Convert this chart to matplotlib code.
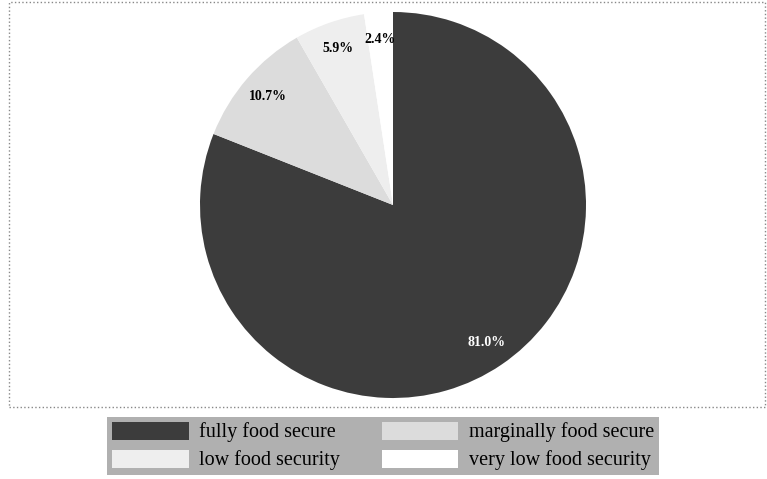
import matplotlib.pyplot as plt
from matplotlib.patches import Rectangle, Patch

categories = ['fully food secure', 'marginally food secure',
              'low food security', 'very low food security']
shares = [81.0, 10.7, 5.9, 2.4]
colors = ['#3c3c3c', '#dcdcdc', '#eeeeee', '#ffffff']
label_colors = ['white', 'black', 'black', 'black']

fig = plt.figure(figsize=(7.67, 4.79), dpi=100)

# dotted frame around the chart area
fig.patches.append(Rectangle((9 / 767, 1 - 407 / 479), 756 / 767, 405 / 479,
                             transform=fig.transFigure, fill=False,
                             edgecolor='#888888', linestyle=':', lw=1))

ax = fig.add_axes([200 / 767, 81 / 479, 386 / 767, 386 / 479])
wedges, texts, autotexts = ax.pie(
    shares, colors=colors, startangle=90, counterclock=False,
    autopct='%.1f%%', pctdistance=0.86, radius=1,
    wedgeprops=dict(linewidth=0),
    textprops=dict(family='Liberation Serif', fontsize=10, fontweight='bold'))
for t, c in zip(autotexts, label_colors):
    t.set_color(c)
ax.set_xlim(-1, 1)
ax.set_ylim(-1, 1)
ax.axis('off')

# legend laid out row by row: fully / marginally, low / very low
order = [0, 2, 1, 3]
handles = [Patch(facecolor=colors[i], edgecolor='none') for i in order]
labels = [categories[i] for i in order]
leg = fig.legend(handles, labels, ncol=2, loc='center',
                 bbox_to_anchor=(383 / 767, 1 - 446 / 479),
                 prop=dict(family='Liberation Serif', size=14.5),
                 handlelength=3.8, handleheight=1.0, handletextpad=0.5,
                 columnspacing=2.1, labelspacing=0.35,
                 fancybox=False, borderpad=0.25, borderaxespad=0)
leg.get_frame().set_facecolor('#b0b0b0')
leg.get_frame().set_edgecolor('none')
leg.get_frame().set_alpha(1)

fig.savefig('out.png', dpi=100)
